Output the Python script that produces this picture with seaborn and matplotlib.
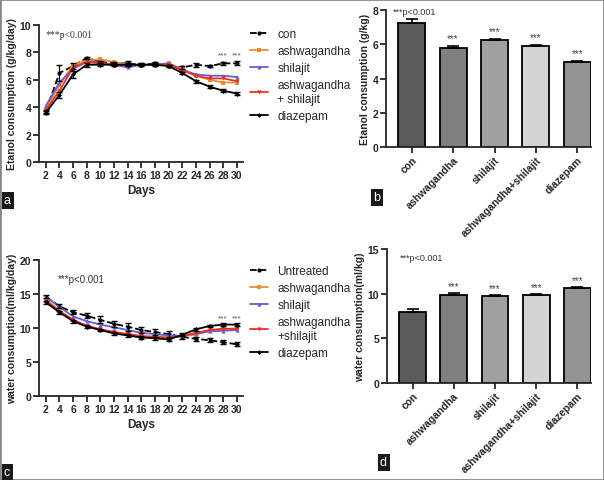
import seaborn as sns
import matplotlib.pyplot as plt
import numpy as np
import pandas as pd

# giorni e serie (panel a: etanolo, panel c: acqua)
days = [2, 4, 6, 8, 10, 12, 14, 16, 18, 20, 22, 24, 26, 28, 30]

eth_con = [3.7, 6.5, 7.0, 7.6, 7.3, 7.2, 7.2, 7.1, 7.2, 7.0, 6.9, 7.1, 7.0, 7.2, 7.2]
eth_ash = [3.9, 5.6, 7.1, 7.4, 7.5, 7.3, 7.1, 7.1, 7.1, 7.2, 6.8, 6.3, 6.0, 5.8, 5.8]
eth_shi = [4.1, 5.8, 6.8, 7.3, 7.2, 7.1, 6.9, 7.1, 7.1, 7.2, 6.7, 6.4, 6.3, 6.3, 6.2]
eth_ashshi = [3.8, 5.2, 6.9, 7.3, 7.3, 7.0, 7.1, 7.1, 7.1, 7.1, 6.7, 6.3, 6.1, 6.1, 5.9]
eth_dia = [3.6, 4.9, 6.4, 7.1, 7.1, 7.1, 7.1, 7.1, 7.1, 7.0, 6.5, 5.9, 5.5, 5.2, 5.0]
eth_con_err = [0.1, 0.6, 0.2, 0.1, 0.1, 0.1, 0.15, 0.1, 0.1, 0.1, 0.1, 0.15, 0.1, 0.1, 0.15]
eth_dia_err = [0.1, 0.2, 0.25, 0.15, 0.1, 0.1, 0.1, 0.1, 0.1, 0.1, 0.1, 0.1, 0.1, 0.1, 0.1]

wat_con = [14.6, 13.2, 12.3, 11.8, 11.2, 10.6, 10.2, 9.7, 9.4, 9.1, 8.7, 8.4, 8.2, 7.9, 7.6]
wat_ash = [14.2, 12.6, 11.2, 10.3, 9.8, 9.4, 9.1, 8.8, 8.7, 8.6, 8.8, 9.0, 9.6, 9.8, 9.9]
wat_shi = [14.6, 13.1, 11.7, 11.0, 10.5, 10.1, 9.7, 9.3, 9.1, 8.9, 8.8, 9.2, 9.5, 9.6, 9.7]
wat_ashshi = [14.0, 12.4, 11.2, 10.3, 9.8, 9.4, 9.1, 8.8, 8.7, 8.6, 8.8, 9.3, 9.7, 9.9, 9.9]
wat_dia = [13.8, 12.3, 11.0, 10.2, 9.7, 9.2, 8.9, 8.6, 8.5, 8.3, 9.0, 9.8, 10.3, 10.5, 10.5]
wat_con_err = [0.2, 0.3, 0.3, 0.4, 0.5, 0.4, 0.6, 0.4, 0.4, 0.4, 0.3, 0.3, 0.3, 0.3, 0.3]
wat_dia_err = [0.2, 0.2, 0.2, 0.2, 0.2, 0.2, 0.2, 0.2, 0.2, 0.2, 0.2, 0.2, 0.2, 0.2, 0.2]

# barre (panel b e d)
groups = ["con", "ashwagandha", "shilajit", "ashwagandha+shilajit", "diazepam"]
eth_mean = [7.25, 5.78, 6.27, 5.9, 4.98]
eth_err = [0.2, 0.12, 0.05, 0.07, 0.07]
wat_mean = [7.9, 9.9, 9.75, 9.85, 10.6]
wat_err = [0.4, 0.15, 0.15, 0.15, 0.2]
bar_colors = ["#5a5a5a", "#808080", "#a0a0a0", "#d4d4d4", "#939393"]

sns.set_style("ticks")
plt.rcParams['font.family'] = ['Liberation Sans', 'DejaVu Sans']

fig = plt.figure(figsize=(6.04, 4.81), dpi=100)

def px(x0, y0, x1, y1):
    # da pixel a frazioni della figura
    return [x0 / 604, 1 - y1 / 481, (x1 - x0) / 604, (y1 - y0) / 481]

ax_a = fig.add_axes(px(39, 26, 243, 163))
ax_b = fig.add_axes(px(386, 11, 591, 148))
ax_c = fig.add_axes(px(39, 261, 243, 397))
ax_d = fig.add_axes(px(387, 250, 591, 384))

line_styles = [
    dict(color="black", ls="--", marker="o", ms=3),
    dict(color="#f28a30", ls="-", marker="s", ms=2.5),
    dict(color="#6060d0", ls="-", marker="^", ms=3),
    dict(color="#e8302a", ls="-", marker="v", ms=3),
    dict(color="black", ls="-", marker="D", ms=2.5),
]

def style_axis(ax):
    sns.despine(ax=ax)
    for s in ["left", "bottom"]:
        ax.spines[s].set_linewidth(1.3)
    ax.tick_params(width=1.3, length=4, labelsize=7.5, pad=1.5)
    for t in ax.get_xticklabels() + ax.get_yticklabels():
        t.set_fontweight("bold")

def line_panel(ax, series, labels, errs, ymax, ystep, ylabel, star_y, legend_y, ptext, pfont, ppos):
    for vals, lab, st in zip(series, labels, line_styles):
        sns.lineplot(x=days, y=vals, ax=ax, label=lab, color=st["color"], linestyle=st["ls"],
                     marker=st["marker"], markersize=st["ms"], markeredgewidth=0, lw=1.3)
    for idx, e in errs:
        ax.errorbar(days, series[idx], yerr=e, fmt="none", ecolor="black", elinewidth=0.9, capsize=2)
    ax.set_xlim(1, 30.9)
    ax.set_ylim(0, ymax)
    ax.set_xticks(days)
    ax.set_yticks(np.arange(0, ymax + 0.1, ystep))
    ax.set_xlabel("Days", fontsize=8.5, fontweight="bold", labelpad=3)
    ax.set_ylabel(ylabel, fontsize=7.5, fontweight="bold", labelpad=2)
    style_axis(ax)
    for d in [28, 30]:
        ax.text(d, star_y, "***", ha="center", va="bottom", fontsize=6, color="#555555")
    ax.text(ppos[0], ppos[1], ptext, transform=ax.transAxes, fontsize=7, color="#333333",
            family=pfont, va="center")
    h, l = ax.get_legend_handles_labels()
    ax.legend_.remove()
    fig.legend(h, l, loc="upper left", bbox_to_anchor=(250 / 604, legend_y), frameon=False,
               fontsize=8.5, handlelength=1.5, handletextpad=0.8, labelspacing=0.42,
               borderaxespad=0, borderpad=0)

line_panel(ax_a, [eth_con, eth_ash, eth_shi, eth_ashshi, eth_dia],
           ["con", "ashwagandha", "shilajit", "ashwagandha\n+ shilajit", "diazepam"],
           [(0, eth_con_err), (4, eth_dia_err)], 10, 2, "Etanol consumption (g/kg/day)",
           7.55, 1 - 29 / 481, "***p<0.001", ["Liberation Serif", "DejaVu Serif"], (0.03, 0.93))

line_panel(ax_c, [wat_con, wat_ash, wat_shi, wat_ashshi, wat_dia],
           ["Untreated", "ashwagandha", "shilajit", "ashwagandha\n+shilajit", "diazepam"],
           [(0, wat_con_err), (4, wat_dia_err)], 20, 5, "water consumption(ml/kg/day)",
           11.0, 1 - 266 / 481, "***p<0.001", ["Liberation Sans", "DejaVu Sans"], (0.09, 0.86))

def bar_panel(ax, means, errs, ymax, ystep, ylabel, star_off, ppos):
    df = pd.DataFrame({"group": groups, "value": means})
    sns.barplot(data=df, x="group", y="value", hue="group", palette=bar_colors, ax=ax,
                width=0.65, edgecolor="black", linewidth=1.3, legend=False)
    ax.errorbar(range(len(groups)), means, yerr=[np.zeros(len(errs)), errs], fmt="none",
                ecolor="black", elinewidth=1.2, capsize=4, capthick=1.2)
    for i in range(1, len(groups)):
        ax.text(i, means[i] + errs[i] + star_off, "***", ha="center", va="bottom",
                fontsize=7, color="#444444")
    ax.set_ylim(0, ymax)
    ax.set_xlim(-0.62, 4.33)
    ax.set_yticks(np.arange(0, ymax + 0.1, ystep))
    ax.set_xlabel("")
    ax.set_ylabel(ylabel, fontsize=7.5, fontweight="bold", labelpad=2)
    style_axis(ax)
    ax.set_xticks(range(len(groups)))
    ax.set_xticklabels(groups, rotation=45, ha="right", rotation_mode="anchor",
                       fontsize=7.5, fontweight="bold")
    ax.text(ppos[0], ppos[1], "***p<0.001", transform=ax.transAxes, fontsize=6.5,
            color="#333333", va="center")

bar_panel(ax_b, eth_mean, eth_err, 8, 2, "Etanol consumption (g/kg)", 0.15, (0.035, 0.99))
bar_panel(ax_d, wat_mean, wat_err, 15, 5, "water consumption(ml/kg)", 0.2, (0.065, 0.94))

# etichette dei pannelli
for lab, x, y in [("a", 4, 201), ("b", 373, 198), ("c", 4, 473), ("d", 380, 463)]:
    fig.text(x / 604, 1 - y / 481, lab, color="white", fontsize=9, ha="left", va="center",
             bbox=dict(boxstyle="square,pad=0.2", fc="#1a1a1a", ec="none"))

# cornice grigia
fig.patches.append(plt.Rectangle((0, 0), 1, 1, transform=fig.transFigure, fill=False,
                                 ec="#888888", lw=2))

fig.savefig("out.png", dpi=100)
